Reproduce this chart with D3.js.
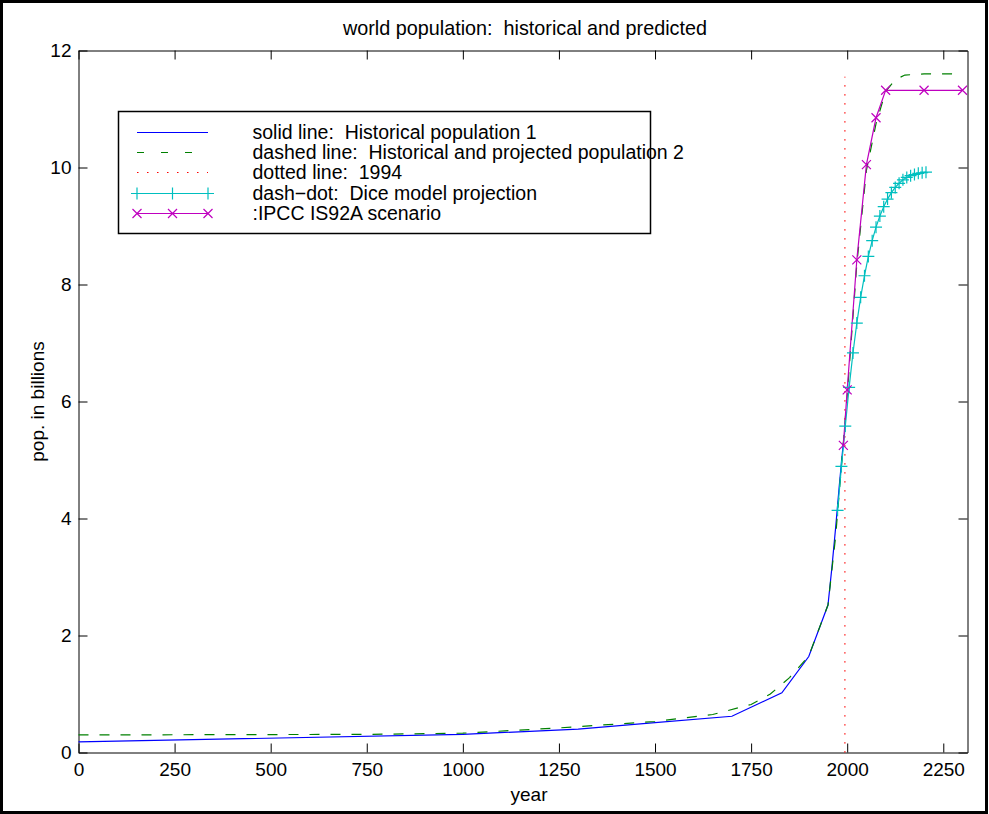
<!DOCTYPE html>
<html>
<head>
<meta charset="utf-8">
<script src="https://cdn.jsdelivr.net/npm/d3@7"></script>
<style>
  body { margin: 0; background: #fff; }
  text { font-family: "Liberation Sans", Arial, Helvetica, sans-serif; white-space: pre; }
</style>
</head>
<body>
<script>
// historical population 1 (solid blue)
const histYears = [0, 1000, 1300, 1500, 1700, 1830, 1900, 1950, 1960, 1970, 1980, 1990]
const histPop   = [0.18, 0.31, 0.40, 0.51, 0.62, 1.02, 1.64, 2.52, 3.15, 3.85, 4.6, 5.3]

// historical and projected population 2 (dashed green)
const projYears = [0, 750, 1000, 1250, 1500, 1650, 1750, 1800, 1850, 1900, 1950, 1970, 1990, 2000, 2025, 2050, 2075, 2100, 2125, 2150, 2200, 2300]
const projPop   = [0.30, 0.31, 0.33, 0.42, 0.53, 0.65, 0.82, 1.0, 1.28, 1.65, 2.52, 3.7, 5.3, 6.1, 8.35, 9.95, 10.75, 11.3, 11.5, 11.58, 11.6, 11.6]

// dotted marker year
const markYear = 1994
const markRange = [0, 11.55]

// Dice model projection (cyan +)
const diceYears = [1975, 1985, 1995, 2005, 2015, 2025, 2035, 2045, 2055, 2065, 2075, 2085, 2095, 2105, 2115, 2125, 2135, 2145, 2155, 2165, 2175, 2185, 2195, 2205]
const dicePop   = [4.14, 4.89, 5.58, 6.24, 6.83, 7.34, 7.78, 8.15, 8.48, 8.75, 8.98, 9.17, 9.33, 9.46, 9.57, 9.66, 9.73, 9.79, 9.83, 9.86, 9.88, 9.90, 9.91, 9.92]

// IPCC IS92A scenario (magenta x)
const ipccYears = [1990, 2000, 2025, 2050, 2075, 2100, 2200, 2300]
const ipccPop   = [5.25, 6.2, 8.42, 10.05, 10.85, 11.32, 11.32, 11.32]

const xTicks = [0, 250, 500, 750, 1000, 1250, 1500, 1750, 2000, 2250]
const yTicks = [0, 2, 4, 6, 8, 10, 12]
const legendLabels = [
  "solid line:  Historical population 1",
  "dashed line:  Historical and projected population 2",
  "dotted line:  1994",
  "dash\u2212dot:  Dice model projection",
  ":IPCC IS92A scenario"
]

const W = 989, H = 814
const plot = {left: 78.5, right: 967.5, top: 50.5, bottom: 752.5}
const colors = {hist: "#0000ff", proj: "#008000", mark: "#ff0000", dice: "#00bfbf", ipcc: "#bf00bf"}

const svg = d3.select("body").append("svg")
  .attr("width", W).attr("height", H)

// figure frame
svg.append("rect")
  .attr("x", 1.5).attr("y", 1.5)
  .attr("width", 985).attr("height", 811)
  .attr("fill", "none").attr("stroke", "#000").attr("stroke-width", 3)

const x = d3.scaleLinear().domain([0, 2313]).range([plot.left, plot.right])
const y = d3.scaleLinear().domain([0, 12]).range([plot.bottom, plot.top])

const zip = (xs, ys) => xs.map((v, i) => [v, ys[i]])
const line = d3.line().x(d => x(d[0])).y(d => y(d[1]))

// axes, ticks pointing inward
const axisFont = g => g.selectAll("text")
  .style("font-family", "'Liberation Sans', Arial, sans-serif")
  .style("font-size", "19px").attr("fill", "#000")

svg.append("g").attr("transform", `translate(0,${plot.bottom})`)
  .call(d3.axisBottom(x).tickValues(xTicks).tickFormat(d3.format("d"))
    .tickSizeInner(-9).tickSizeOuter(0).tickPadding(10))
  .call(axisFont)
svg.append("g").attr("transform", `translate(${plot.left},0)`)
  .call(d3.axisLeft(y).tickValues(yTicks).tickSizeInner(-9).tickSizeOuter(0).tickPadding(7))
  .call(axisFont)
svg.append("g").attr("transform", `translate(0,${plot.top})`)
  .call(d3.axisTop(x).tickValues(xTicks).tickSizeInner(-9).tickSizeOuter(0).tickFormat(""))
svg.append("g").attr("transform", `translate(${plot.right},0)`)
  .call(d3.axisRight(y).tickValues(yTicks).tickSizeInner(-9).tickSizeOuter(0).tickFormat(""))
svg.selectAll(".domain").attr("stroke", "#000")

// series
const series = svg.append("g")
series.append("path").attr("d", line(zip(histYears, histPop)))
  .attr("fill", "none").attr("stroke", colors.hist).attr("stroke-width", 1.2)
series.append("path").attr("d", line(zip(projYears, projPop)))
  .attr("fill", "none").attr("stroke", colors.proj).attr("stroke-width", 1.2)
  .attr("stroke-dasharray", "10,11")
series.append("path").attr("d", line(markRange.map(v => [markYear, v])))
  .attr("fill", "none").attr("stroke", colors.mark).attr("stroke-width", 1.3)
  .attr("stroke-dasharray", "1.3,7.7")
series.append("path").attr("d", line(zip(diceYears, dicePop)))
  .attr("fill", "none").attr("stroke", colors.dice).attr("stroke-width", 1.2)
series.append("path").attr("d", line(zip(ipccYears, ipccPop)))
  .attr("fill", "none").attr("stroke", colors.ipcc).attr("stroke-width", 1.2)

const plusPath = (cx, cy, s) => `M${cx - s},${cy}H${cx + s}M${cx},${cy - s}V${cy + s}`
const crossPath = (cx, cy, s) => `M${cx - s},${cy - s}L${cx + s},${cy + s}M${cx - s},${cy + s}L${cx + s},${cy - s}`

series.selectAll(".plus").data(zip(diceYears, dicePop)).enter()
  .append("path").attr("class", "plus")
  .attr("d", d => plusPath(x(d[0]), y(d[1]), 6))
  .attr("stroke", colors.dice).attr("stroke-width", 1.2)
series.selectAll(".cross").data(zip(ipccYears, ipccPop)).enter()
  .append("path").attr("class", "cross")
  .attr("d", d => crossPath(x(d[0]), y(d[1]), 4.5))
  .attr("stroke", colors.ipcc).attr("stroke-width", 1.2)

// title and axis labels
svg.append("text").text("world population:  historical and predicted")
  .attr("x", (plot.left + plot.right) / 2 + 2).attr("y", 35)
  .attr("text-anchor", "middle").style("font-size", "19.8px")
svg.append("text").text("year")
  .attr("x", (plot.left + plot.right) / 2 + 6).attr("y", 801)
  .attr("text-anchor", "middle").style("font-size", "19px")
svg.append("text").text("pop. in billions")
  .attr("transform", `translate(44,${(plot.top + plot.bottom) / 2}) rotate(-90)`)
  .attr("text-anchor", "middle").style("font-size", "19px")

// legend
const legend = svg.append("g")
legend.append("rect")
  .attr("x", 118.5).attr("y", 111.5).attr("width", 532).attr("height", 122)
  .attr("fill", "#fff").attr("stroke", "#000").attr("stroke-width", 1.5)
const rowY = [132, 152, 172, 193, 213]
const sx0 = 137, sx1 = 208
const styles = [
  {c: colors.hist, dash: null, mark: null},
  {c: colors.proj, dash: "7,17", mark: null},
  {c: colors.mark, dash: "1.5,8.5", mark: null},
  {c: colors.dice, dash: null, mark: "plus"},
  {c: colors.ipcc, dash: null, mark: "cross"}
]
legendLabels.forEach((lab, i) => {
  const yy = rowY[i] + 0.5
  const st = styles[i]
  legend.append("line")
    .attr("x1", sx0).attr("x2", sx1).attr("y1", yy).attr("y2", yy)
    .attr("stroke", st.c).attr("stroke-width", 1.2)
    .attr("stroke-dasharray", st.dash)
  if (st.mark) {
    [sx0, (sx0 + sx1) / 2, sx1].forEach(mx => {
      legend.append("path")
        .attr("d", st.mark === "plus" ? plusPath(mx, yy, 6) : crossPath(mx, yy, 4.5))
        .attr("stroke", st.c).attr("stroke-width", 1.2)
    })
  }
  legend.append("text").text(lab)
    .attr("x", 252.5).attr("y", rowY[i] + 7)
    .style("font-size", "19.5px")
})
</script>
</body>
</html>
